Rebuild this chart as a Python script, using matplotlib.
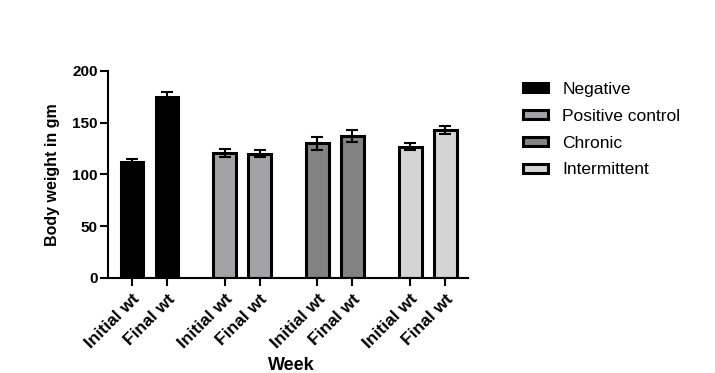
import numpy as np
import matplotlib.pyplot as plt

plt.rcParams['font.family'] = ['Liberation Sans', 'DejaVu Sans']

# data
groups = ["Negative", "Positive control", "Chronic", "Intermittent"]
tick_labels = ["Initial wt", "Final wt"]
means = [[112, 175], [121, 120], [130, 137], [127, 143]]
errs = [[2.5, 5], [4, 3.5], [6, 6], [3, 4]]
colors = ["#000000", "#a3a3a6", "#828282", "#d4d4d4"]

fig = plt.figure(figsize=(7.15, 3.73), dpi=100)
ax = fig.add_axes([0.151, 0.2547, 0.5035, 0.555])

gap = 2.65
width = 0.65
xs_all, labs_all = [], []
for g, name in enumerate(groups):
    xs = np.array([0, 1]) + g * gap
    ax.bar(xs, means[g], width=width, color=colors[g], edgecolor="black",
           linewidth=2.2, label=name, zorder=2)
    ax.errorbar(xs, means[g], yerr=errs[g], fmt="none", ecolor="black",
                elinewidth=1.5, capsize=4.5, capthick=1.5, zorder=3)
    xs_all.extend(xs)
    labs_all.extend(tick_labels)

ax.set_xlim(-0.686, 9.6)
ax.set_ylim(0, 200)
ax.set_yticks([0, 50, 100, 150, 200])
ax.set_xticks(xs_all)
ax.set_xticklabels(labs_all, rotation=45, ha="right", rotation_mode="anchor",
                   fontsize=12.5, fontweight="bold")
for t in ax.get_yticklabels():
    t.set_fontsize(11)
    t.set_fontweight("bold")

for s in ["top", "right"]:
    ax.spines[s].set_visible(False)
for s in ["left", "bottom"]:
    ax.spines[s].set_linewidth(1.5)
ax.tick_params(axis="both", width=1.5, length=5.5, pad=2)
ax.tick_params(axis="x", pad=4)

ax.set_ylabel("Body weight in gm", fontsize=11.5, fontweight="bold", labelpad=9)
ax.set_xlabel("Week", fontsize=13, fontweight="bold", va="center")
ax.xaxis.set_label_coords(0.51, -0.425)

ax.legend(loc="upper left", bbox_to_anchor=(0.71, 0.822),
          bbox_transform=fig.transFigure, frameon=False, fontsize=12.5,
          handlelength=1.4, handleheight=0.45, labelspacing=0.68,
          handletextpad=0.85)

fig.savefig("out.png", dpi=100)
